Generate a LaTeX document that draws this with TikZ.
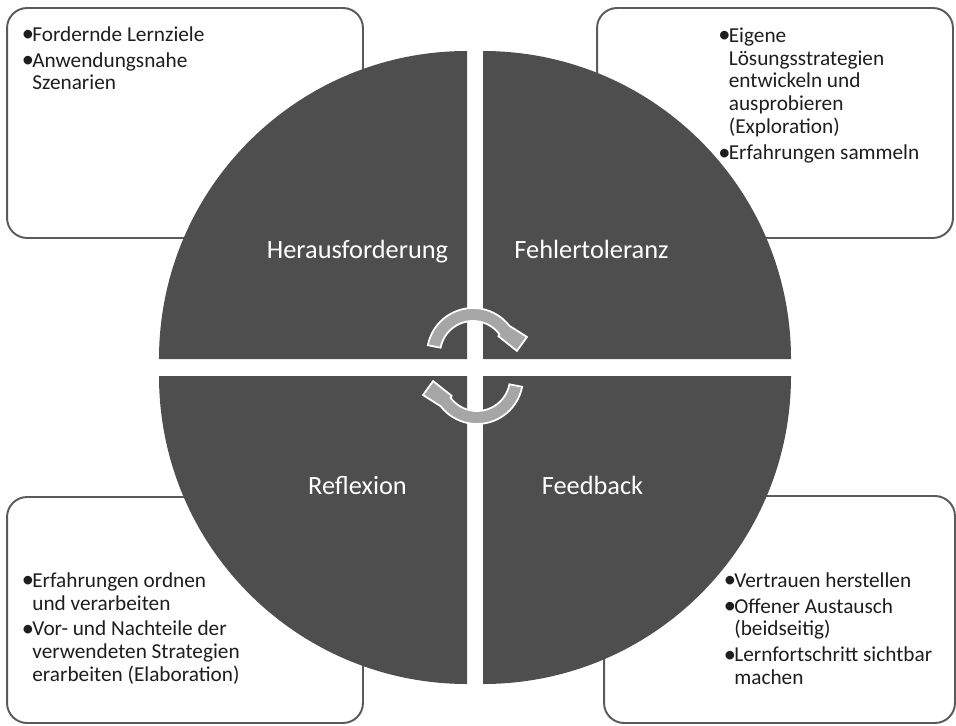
\documentclass[tikz,border=0pt]{standalone}
\usepackage{fontspec}
\setmainfont{Carlito}
\usetikzlibrary{calc, positioning}
\definecolor{quadGrey}{HTML}{4E4E4E}
\definecolor{frameGrey}{HTML}{5A5A5A}
\definecolor{arrowGrey}{HTML}{A6A6A6}
\definecolor{textInk}{HTML}{1E1E1E}
\newlength{\bulw}\setlength{\bulw}{0.18cm}
\newcommand{\nl}{\hfil\break}
\newcommand{\bitem}[1]{\par\spaceskip=0pt\xspaceskip=0pt\hangindent=\bulw\hangafter=1\noindent
  \makebox[\bulw][c]{\raisebox{-0.4pt}{\scalebox{1.15}{\textbullet}}}#1\par\vspace{1.7pt}}
\tikzset{
  panel/.style   = {draw=frameGrey, fill=white, line width=1.1pt, rounded corners=0.4cm,
                    minimum width=7.12cm, minimum height=4.6cm, inner sep=0pt},
  quad/.style    = {fill=quadGrey},
  qlabel/.style  = {text=white, font=\fontsize{15}{18}\selectfont, anchor=base, inner sep=0pt},
  bullets/.style = {text=textInk, font=\fontsize{12.1}{13}\selectfont, anchor=north west,
                    inner sep=0pt, text width=6cm, align=left},
  cyc/.style     = {fill=arrowGrey, draw=white, line width=1pt}
}

\begin{document}
\begin{tikzpicture}[x=0.02cm, y=0.02cm]
  \useasboundingbox (0,0) rectangle (956,725);
  \coordinate (ctr) at (475,357.5);
  % boxes behind the circle
  \node[panel] (boxTL) at (185,602) {};
  \node[panel] (boxTR) at (775,602) {};
  \node[panel, minimum height=4.52cm] (boxBL) at (185,115) {};
  \node[panel, minimum width=7.02cm, minimum height=4.54cm] (boxBR) at (779.5,115.5) {};
  % four quadrants
  \foreach \sx/\sy/\a in {-8/8.5/90, 8/8.5/0, -8/-8.5/180, 8/-8.5/270}
    \fill[quad] ($(ctr)+(\sx,\sy)$) -- ++(\a:308) arc[start angle=\a, delta angle=90, radius=308] -- cycle;
  \node[qlabel] (herausf) at (357.5,467) {Herausforderung};
  \node[qlabel] (fehler)  at (591.5,467) {Fehlertoleranz};
  \node[qlabel] (reflex)  at (357.5,231) {Reflexion};
  \node[qlabel] (feedb)   at (592.5,231) {Feedback};
  % cycle arrows
  \foreach \r in {0,180}
    \path[cyc, rotate around={\r:(475,359)}, shift={(473,371)}]
      (169:46) arc[start angle=169, end angle=38, radius=46] -- (17.5:56.6) -- (4:44)
      -- (35:31) -- (37:33) arc[start angle=37, end angle=169, radius=33] -- cycle;
  % bullet texts
  \node[bullets] (ptsTL) at (23,707) {\bitem{Fordernde Lernziele}\bitem{Anwendungsnahe\nl Szenarien}};
  \node[bullets] (ptsTR) at (719.5,706) {\bitem{Eigene\nl Lösungsstrategien\nl entwickeln und\nl ausprobieren\nl (Exploration)}\bitem{Erfahrungen sammeln}};
  \node[bullets] (ptsBL) at (23,161) {\bitem{Erfahrungen ordnen\nl und verarbeiten}\bitem{Vor- und Nachteile der\nl verwendeten Strategien\nl erarbeiten (Elaboration)}};
  \node[bullets] (ptsBR) at (725,161) {\bitem{Vertrauen herstellen}\bitem{Offener Austausch\nl (beidseitig)}\bitem{Lernfortschritt sichtbar\nl machen}};
\end{tikzpicture}
\end{document}
